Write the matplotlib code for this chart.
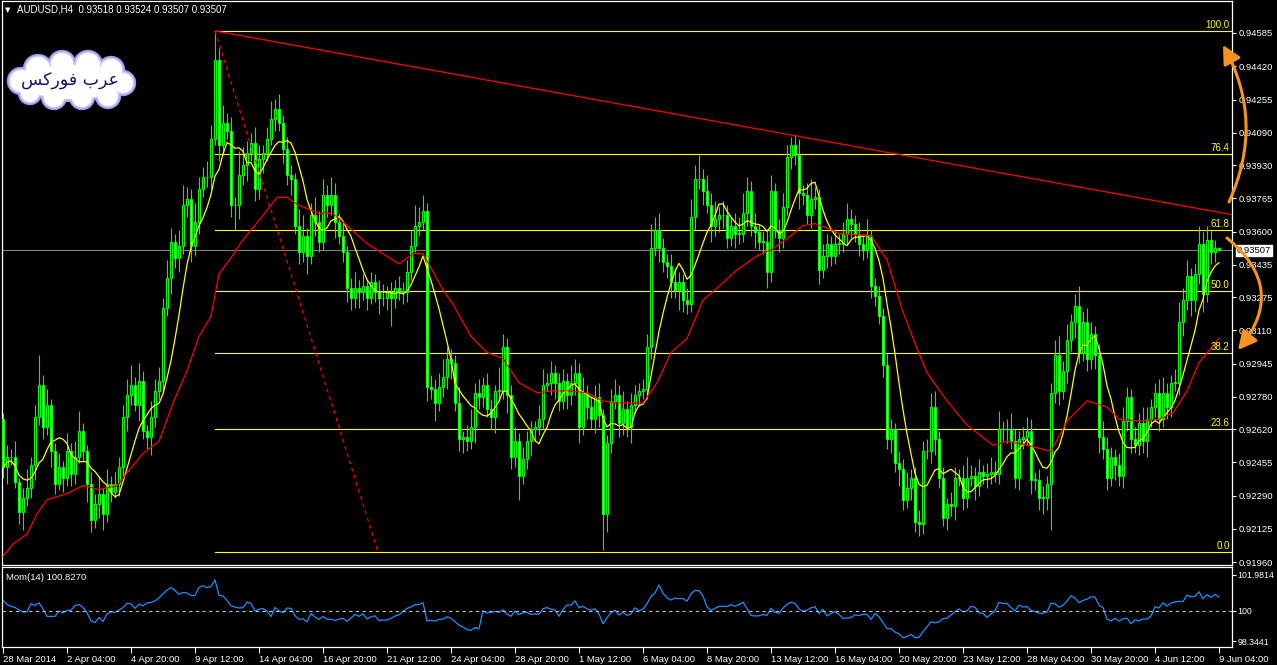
import matplotlib
matplotlib.use('Agg')
import matplotlib.pyplot as plt
import numpy as np
import pandas as pd
from matplotlib.patches import Circle, Ellipse, FancyArrowPatch

plt.rcParams['font.family'] = ['Liberation Sans', 'DejaVu Sans']

# AUDUSD H4 closes, in pips (price * 10000)
first_open = 9267
closes = [
    9243, 9248, 9248, 9236, 9221, 9228, 9233, 9244, 9268, 9284,
    9263, 9274, 9251, 9235, 9243, 9238, 9251, 9240, 9248, 9261,
    9251, 9235, 9217, 9225, 9230, 9220, 9235, 9231, 9235, 9243,
    9268, 9279, 9284, 9274, 9286, 9261, 9258, 9268, 9281, 9286,
    9322, 9337, 9355, 9347, 9353, 9373, 9376, 9353, 9365, 9381,
    9387, 9387, 9406, 9445, 9403, 9414, 9410, 9373, 9373, 9388,
    9393, 9399, 9404, 9381, 9396, 9399, 9406, 9416, 9421, 9414,
    9401, 9388, 9386, 9363, 9350, 9358, 9348, 9368, 9365, 9355,
    9378, 9373, 9378, 9365, 9358, 9350, 9332, 9327, 9332, 9330,
    9333, 9327, 9335, 9330, 9327, 9327, 9330, 9327, 9332, 9330,
    9330, 9340, 9353, 9363, 9365, 9370, 9283, 9282, 9275, 9283,
    9288, 9297, 9295, 9275, 9257, 9258, 9256, 9263, 9280, 9278,
    9284, 9272, 9268, 9281, 9281, 9303, 9279, 9248, 9256, 9239,
    9247, 9256, 9262, 9263, 9267, 9284, 9285, 9290, 9285, 9276,
    9286, 9279, 9285, 9290, 9263, 9280, 9273, 9267, 9278, 9269,
    9220, 9255, 9276, 9279, 9265, 9272, 9263, 9274, 9279, 9281,
    9282, 9303, 9352, 9361, 9352, 9345, 9343, 9335, 9331, 9335,
    9326, 9324, 9367, 9386, 9386, 9380, 9373, 9363, 9366, 9368,
    9368, 9357, 9363, 9359, 9359, 9369, 9380, 9363, 9360, 9355,
    9355, 9340, 9380, 9361, 9357, 9372, 9397, 9403, 9398, 9379,
    9378, 9368, 9376, 9377, 9341, 9348, 9354, 9348, 9354, 9354,
    9359, 9366, 9364, 9359, 9354, 9351, 9358, 9333, 9328, 9318,
    9294, 9257, 9262, 9245, 9242, 9227, 9233, 9238, 9216, 9215,
    9251, 9251, 9273, 9257, 9238, 9218, 9225, 9224, 9238, 9238,
    9228, 9238, 9239, 9234, 9241, 9239, 9240, 9241, 9240, 9262,
    9262, 9262, 9256, 9238, 9257, 9258, 9261, 9237, 9237, 9228,
    9228, 9235, 9280, 9299, 9281, 9291, 9306, 9315, 9323, 9300,
    9315, 9297, 9309, 9299, 9258, 9252, 9238, 9248, 9244, 9239,
    9266, 9278, 9257, 9254, 9265, 9256, 9267, 9273, 9280, 9267,
    9280, 9273, 9285, 9285, 9315, 9326, 9338, 9326, 9339, 9354,
    9329, 9356, 9350, 9351.8, 9350.7,
]
# wick lengths above / below the body, pips
wick_up = [
    3, 6, 4, 8, 2, 5, 9, 4, 6, 15, 5, 8, 3, 4, 7, 3, 9, 4, 8, 10,
    4, 3, 6, 5, 9, 3, 7, 4, 6, 5, 6, 8, 10, 4, 9, 5, 3, 8, 6, 7,
    5, 9, 7, 4, 8, 10, 6, 5, 9, 6, 5, 8, 7, 14, 6, 9, 5, 7, 4, 12,
    9, 6, 5, 8, 7, 4, 6, 9, 5, 7, 4, 6, 5, 3, 8, 10, 4, 6, 9, 5,
    8, 5, 9, 6, 4, 7, 3, 5, 8, 4, 6, 3, 5, 4, 6, 7, 3, 5, 4, 6,
    5, 6, 8, 10, 7, 8, 4, 6, 5, 7, 9, 6, 5, 4, 8, 3, 6, 9, 5, 7,
    4, 6, 5, 3, 12, 6, 4, 5, 7, 4, 6, 5, 4, 3, 7, 8, 5, 6, 4, 5,
    6, 4, 9, 7, 5, 8, 4, 5, 6, 7, 3, 4, 6, 8, 5, 9, 4, 6, 5, 4,
    5, 6, 12, 6, 8, 5, 4, 6, 7, 5, 4, 6, 9, 7, 12, 5, 8, 6, 9, 4,
    7, 5, 4, 6, 8, 10, 7, 5, 6, 4, 5, 6, 8, 4, 5, 7, 6, 4, 5, 8,
    4, 6, 10, 5, 4, 6, 5, 4, 7, 5, 6, 8, 5, 4, 6, 5, 8, 3, 4, 5,
    4, 6, 5, 3, 6, 5, 8, 4, 5, 6, 5, 6, 7, 8, 4, 5, 3, 6, 5, 4,
    6, 10, 5, 4, 6, 3, 5, 7, 5, 9, 4, 5, 8, 6, 4, 5, 7, 6, 4, 5,
    6, 4, 5, 7, 9, 5, 8, 4, 6, 10, 5, 7, 6, 4, 5, 8, 6, 5, 4, 6,
    7, 5, 4, 6, 5, 8, 6, 4, 5, 7, 8, 5, 4, 7, 10, 6, 8, 4, 5, 9,
    6, 7, 5, 4, 0.6,
]
wick_dn = [
    5, 8, 4, 3, 6, 9, 4, 5, 7, 4, 6, 4, 8, 5, 3, 7, 4, 6, 5, 3,
    5, 9, 6, 4, 7, 8, 4, 5, 3, 6, 4, 7, 5, 3, 8, 4, 6, 9, 5, 4,
    6, 4, 8, 5, 7, 4, 6, 8, 5, 6, 4, 5, 6, 3, 8, 5, 4, 6, 12, 7,
    5, 8, 4, 6, 5, 7, 4, 3, 6, 4, 7, 5, 8, 4, 6, 5, 9, 4, 7, 5,
    4, 6, 5, 8, 4, 5, 7, 6, 5, 8, 4, 6, 3, 5, 8, 4, 6, 14, 5, 4,
    6, 5, 4, 3, 5, 4, 7, 5, 9, 4, 5, 6, 8, 4, 6, 7, 5, 4, 8, 6,
    5, 4, 6, 8, 5, 4, 9, 6, 5, 12, 4, 5, 7, 6, 4, 5, 3, 6, 8, 5,
    4, 7, 5, 6, 8, 4, 6, 5, 7, 6, 18, 9, 5, 4, 7, 6, 5, 8, 4, 5,
    4, 5, 6, 4, 7, 5, 6, 8, 4, 10, 6, 5, 4, 6, 5, 7, 4, 8, 5, 6,
    6, 5, 4, 7, 5, 4, 6, 5, 8, 4, 6, 8, 5, 4, 7, 5, 4, 6, 5, 8,
    5, 4, 6, 5, 7, 4, 6, 5, 4, 5, 4, 5, 7, 4, 6, 5, 4, 6, 5, 4,
    6, 5, 7, 4, 8, 5, 4, 6, 5, 6, 5, 4, 6, 8, 5, 4, 6, 5, 7, 4,
    6, 5, 4, 7, 5, 4, 6, 5, 4, 5, 6, 7, 4, 5, 6, 5, 4, 7, 5, 6,
    8, 6, 23, 5, 7, 4, 6, 5, 8, 5, 4, 6, 5, 7, 8, 5, 6, 4, 7, 5,
    6, 5, 7, 4, 5, 6, 8, 4, 5, 6, 4, 6, 5, 4, 6, 7, 5, 8, 6, 5,
    9, 4, 6, 5, 0,
]

# slow moving average (red), read at sampled bars
slow_ma_bar = [0, 2.5, 6, 8.5, 11, 16, 20, 24, 28.5, 32.5, 35, 39, 42.5, 46, 49, 52,
               54, 57, 60, 65, 68.5, 71, 74, 79, 82.5, 86, 91, 95, 99, 102.5, 105,
               107, 110, 112.5, 117, 121, 125, 129, 133.5, 137, 142, 146, 150, 153.5,
               160, 163.5, 167, 171, 175, 178.5, 183.5, 188.5, 192, 197, 200, 203,
               207, 209, 217, 221, 225, 228.5, 231, 236, 241, 247.5, 251, 256, 262,
               266, 271, 276, 279, 284, 289, 292.5, 296, 299, 304]
slow_ma_val = [9199, 9205, 9210, 9220, 9227, 9230, 9234, 9232, 9234, 9244, 9250, 9256,
               9275, 9291, 9308, 9318, 9339, 9347, 9356, 9368, 9377, 9377, 9373, 9369,
               9369, 9363, 9354, 9349, 9344, 9349, 9349, 9342, 9331, 9324, 9308, 9300,
               9297, 9285, 9280, 9281, 9281, 9280, 9276, 9275, 9275, 9285, 9300, 9307,
               9326, 9332, 9341, 9348, 9351, 9358, 9363, 9364, 9361, 9359, 9358, 9346,
               9320, 9302, 9290, 9276, 9264, 9254, 9256, 9254, 9251, 9266, 9276, 9273,
               9267, 9266, 9267, 9270, 9281, 9295, 9307]

# momentum(14) for the first bars (history before the window)
mom_head = [100.6, 100.35, 100.25, 100.2, 100.05, 99.95, 99.95, 100.4, 100.3,
            100.45, 100.1, 99.7, 99.7, 99.7]

date_labels = ['28 Mar 2014', '2 Apr 04:00', '4 Apr 20:00', '9 Apr 12:00',
               '14 Apr 04:00', '16 Apr 20:00', '21 Apr 12:00', '24 Apr 04:00',
               '28 Apr 20:00', '1 May 12:00', '6 May 04:00', '8 May 20:00',
               '13 May 12:00', '16 May 04:00', '20 May 20:00', '23 May 12:00',
               '28 May 04:00', '30 May 20:00', '4 Jun 12:00', '9 Jun 04:00']
price_ticks = [0.94585, 0.94420, 0.94255, 0.94090, 0.93930, 0.93765, 0.93600,
               0.93435, 0.93275, 0.93110, 0.92945, 0.92780, 0.92620, 0.92455,
               0.92290, 0.92125, 0.91960]
mom_ticks = [98.3441, 100, 101.9814]

fib_high = 0.94595
fib_low = 0.92011
fib_levels = [0.0, 23.6, 38.2, 50.0, 61.8, 76.4, 100.0]
fib_start_bar = 53
fib_end_bar = 93.75
trend_bar = [53, 197]
trend_price = [0.94595, 0.94079]

W, H = 1277, 665
FS = 6.8


def box(x0, y0, x1, y1):
    return [x0 / W, 1 - y1 / H, (x1 - x0) / W, (y1 - y0) / H]


c = np.array(closes) / 10000
o = np.concatenate([[first_open / 10000], c[:-1]])
hi = np.maximum(o, c) + np.array(wick_up) / 10000
lo = np.minimum(o, c) - np.array(wick_dn) / 10000
x = np.arange(len(c))

fast_ma = pd.Series(c).rolling(8, min_periods=1).mean()
mom = (100 * pd.Series(c) / pd.Series(c).shift(14)).to_numpy()
mom[:14] = mom_head

fig = plt.figure(figsize=(W / 100, H / 100), dpi=100, facecolor='black')
ax = fig.add_axes(box(2, 1, 1232, 565))
axm = fig.add_axes(box(2, 567, 1232, 647), sharex=ax)

green = '#00ff00'
for a in (ax, axm):
    a.set_facecolor('black')
    for s in a.spines.values():
        s.set_color('white')
        s.set_linewidth(0.9)

# candles
ax.vlines(x, lo, hi, colors=green, lw=0.8, zorder=2)
bear = c < o
body_h = np.maximum(np.abs(c - o), 0.00003)
ax.bar(x, body_h, bottom=np.minimum(o, c), width=0.62,
       color=np.where(bear, 'white', 'black'), edgecolor=green, linewidth=0.75, zorder=3)

ax.plot(x, fast_ma, color='#ffff00', lw=0.9, zorder=4)
ax.plot(slow_ma_bar, np.array(slow_ma_val) / 10000, color='#ff0000', lw=0.9, zorder=4)
ax.axhline(c[-1], color='#808080', lw=0.8, zorder=1)

x_right = (1232 - 3) / 4
ax.set_xlim(-0.25, x_right)
ax.set_ylim(0.919463, 0.947437)

# fibonacci retracement
for lv in fib_levels:
    p = fib_low + (fib_high - fib_low) * lv / 100
    ax.plot([fib_start_bar, x_right], [p, p], color='#ffff00', lw=0.8, zorder=1)
    ax.text(x_right - 0.6, p + 0.00006, f'{lv:.1f}', color='#ffff00', fontsize=7,
            ha='right', va='bottom', zorder=5)
ax.plot([fib_start_bar, fib_end_bar], [fib_high, fib_low], color='#ff0000', lw=0.9,
        ls=(0, (3, 3)), zorder=4)

# trend line (ray to the right)
slope = (trend_price[1] - trend_price[0]) / (trend_bar[1] - trend_bar[0])
ax.plot([trend_bar[0], x_right], [trend_price[0], trend_price[0] + slope * (x_right - trend_bar[0])],
        color='#ff0000', lw=0.9, zorder=4)

ax.yaxis.tick_right()
ax.set_yticks(price_ticks)
ax.set_yticklabels([f'{p:.5f}' for p in price_ticks])
ax.tick_params(axis='y', colors='white', labelsize=FS, length=3, width=0.8, pad=1.5)
ax.tick_params(axis='x', bottom=False, labelbottom=False)

ax.annotate(f'{c[-1]:.5f}', xy=(1.004, c[-1]), xycoords=('axes fraction', 'data'),
            fontsize=FS, color='black', va='center', ha='left',
            bbox=dict(boxstyle='square,pad=0.12', fc='white', ec='white'), zorder=6,
            annotation_clip=False)

# momentum panel
axm.plot(x, mom, color='#1e90ff', lw=0.9)
axm.axhline(100, color='#c0c0c0', lw=0.8, ls=(0, (3, 3)))
axm.set_ylim(98.0135, 102.422)
axm.yaxis.tick_right()
axm.set_yticks(mom_ticks)
axm.set_yticklabels(['98.3441', '100', '101.9814'])
axm.tick_params(axis='y', colors='white', labelsize=6.3, length=3, width=0.8, pad=1)
axm.set_xticks(np.arange(0, 16 * len(date_labels), 16))
axm.set_xticklabels(date_labels, ha='left')
axm.tick_params(axis='x', colors='white', labelsize=FS, length=4, width=0.8, pad=2)
axm.text(0.003, 0.93, 'Mom(14) 100.8270', transform=axm.transAxes, color='white',
         fontsize=FS, va='top', ha='left')

# title
fig.text(5 / W, 1 - 10 / H, '\u25bc', color='white', fontsize=5, va='center',
         family=['DejaVu Sans'])
fig.text(17 / W, 1 - 10 / H, 'AUDUSD,H4  0.93518 0.93524 0.93507 0.93507',
         color='white', fontsize=7, va='center')

# cloud logo
axl = fig.add_axes(box(4, 46, 142, 116))
axl.set_xlim(4, 142)
axl.set_ylim(116, 46)
axl.axis('off')
bumps = [(21, 81, 11), (38, 69, 12), (62, 64, 11), (88, 65, 12), (111, 70, 11),
         (123, 83, 10), (108, 96, 10), (82, 97, 10), (54, 97, 10), (30, 93, 9)]
for grow, col in [(3.2, '#9a9ae8'), (1.6, '#c8c8ff'), (0, 'white')]:
    for bx, by, r in bumps:
        axl.add_patch(Circle((bx, by), r + grow, fc=col, ec='none'))
    axl.add_patch(Ellipse((72, 82), 98 + 2 * grow, 34 + 2 * grow, fc=col, ec='none'))
axl.text(70, 81, '\ufeb2\ufedb\ufead\ufeee\ufed3 \ufe8f\ufeae\ufecb', color='#12127a',
         fontsize=12.5, ha='center', va='center', family=['DejaVu Sans'])


# orange arrows
def fpt(px, py):
    return (px / W, 1 - py / H)


orange = '#f7931e'
for a, b, rad in [((1229, 202), (1223, 45), 0.25), ((1227, 238), (1238, 350), -0.5)]:
    arr = FancyArrowPatch(fpt(*a), fpt(*b), transform=fig.transFigure,
                          connectionstyle=f'arc3,rad={rad}',
                          arrowstyle='-|>,head_length=0.55,head_width=0.28',
                          mutation_scale=20, lw=2.2, color=orange,
                          shrinkA=0, shrinkB=0)
    fig.add_artist(arr)

fig.savefig('out.png', dpi=100, facecolor='black')
